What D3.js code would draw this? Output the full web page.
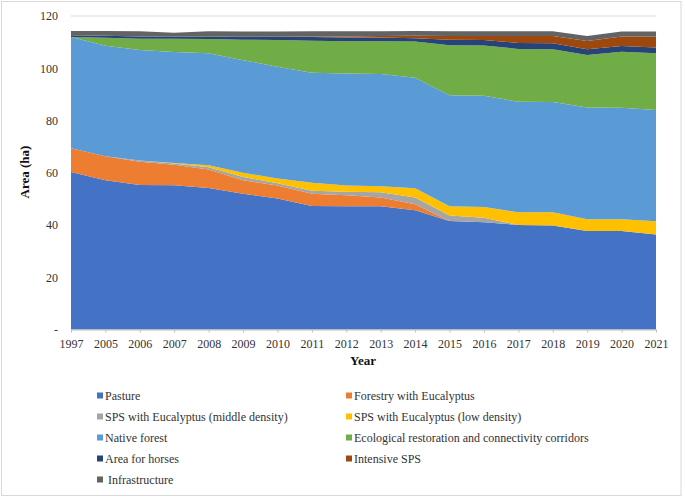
<!DOCTYPE html>
<html>
<head>
<meta charset="utf-8">
<script src="https://cdn.jsdelivr.net/npm/d3@7"></script>
<style>
  body { margin: 0; background: #fff; }
  svg { display: block; font-family: "Liberation Serif", "Times New Roman", serif; }
</style>
</head>
<body>
<div id="chart"></div>
<script>
const width = 685;
const height = 498;

// categories
const years = ['1997', '2005', '2006', '2007', '2008', '2009', '2010', '2011', '2012',
  '2013', '2014', '2015', '2016', '2017', '2018', '2019', '2020', '2021'];

// series values (ha)
const pasture = [60.3, 57.1, 55.3, 55.2, 54.2, 52.0, 50.1, 47.3, 47.2, 47.2, 45.6, 41.5, 41.1, 40.0, 39.8, 37.7, 37.7, 36.4];
const forestry = [9.1, 9.2, 8.9, 7.9, 7.0, 5.1, 5.0, 4.7, 4.2, 3.3, 2.3, 0, 0, 0, 0, 0, 0, 0];
const spsMiddle = [0, 0, 0.5, 0.4, 0.9, 1.3, 0.9, 1.1, 1.3, 2.0, 2.6, 2.1, 1.7, 0, 0, 0, 0, 0];
const spsLow = [0, 0, 0, 0.2, 0.8, 1.6, 1.8, 3.1, 2.4, 2.3, 3.6, 3.6, 4.1, 4.9, 5.1, 4.5, 4.5, 5.0];
const nativeForest = [42.6, 42.3, 42.3, 42.5, 42.8, 43.1, 42.8, 42.1, 42.9, 43.0, 42.3, 42.5, 42.6, 42.3, 42.2, 42.8, 42.7, 42.6];
const restoration = [0, 3.1, 4.3, 5.1, 5.5, 7.8, 10.2, 12.2, 12.3, 12.5, 13.8, 19.1, 19.2, 20.2, 20.2, 20.1, 21.4, 21.7];
const horses = [0.6, 0.7, 0.9, 0.8, 1.0, 1.2, 1.3, 1.5, 1.5, 1.5, 1.3, 2.1, 2.1, 2.3, 2.3, 2.2, 2.2, 2.2];
const intensiveSPS = [0, 0, 0, 0, 0, 0, 0, 0.2, 0.4, 0.5, 0.9, 1.4, 1.5, 2.6, 2.7, 3.1, 3.7, 4.3];
const infrastructure = [1.7, 1.9, 2.0, 1.5, 2.0, 2.0, 2.0, 2.0, 2.0, 1.9, 1.9, 1.9, 1.9, 1.9, 1.9, 1.9, 1.9, 1.9];

const seriesNames = ['Pasture', 'Forestry with Eucalyptus', 'SPS with Eucalyptus (middle density)',
  'SPS with Eucalyptus (low density)', 'Native forest', 'Ecological restoration and connectivity corridors',
  'Area for horses', 'Intensive SPS', ' Infrastructure'];
const seriesValues = [pasture, forestry, spsMiddle, spsLow, nativeForest, restoration, horses, intensiveSPS, infrastructure];
const colors = ['#4472C4', '#ED7D31', '#A5A5A5', '#FFC000', '#5B9BD5', '#70AD47', '#264478', '#9E480E', '#636363'];

const yTicks = [0, 20, 40, 60, 80, 100, 120];

const rows = years.map((yr, i) => {
  const r = { year: yr };
  seriesNames.forEach((name, k) => { r[name] = seriesValues[k][i]; });
  return r;
});

const svg = d3.select('#chart').append('svg').attr('width', width).attr('height', height);

// outer frame
svg.append('rect')
  .attr('x', 1.5).attr('y', 1.5)
  .attr('width', 679.5).attr('height', 494)
  .attr('fill', '#fff')
  .attr('stroke', '#d9d9d9');

const x = d3.scalePoint().domain(years).range([71, 656]);
const y = d3.scaleLinear().domain([0, 120]).range([329.5, 16]);

// gridlines
svg.append('g')
  .selectAll('line')
  .data(yTicks.slice(1))
  .join('line')
  .attr('x1', 71).attr('x2', 656)
  .attr('y1', (d) => y(d)).attr('y2', (d) => y(d))
  .attr('stroke', '#d9d9d9');

const stack = d3.stack().keys(seriesNames);
const layers = stack(rows);

const area = d3.area()
  .x((d) => x(d.data.year))
  .y0((d) => y(d[0]))
  .y1((d) => y(d[1]));

svg.append('g')
  .selectAll('path')
  .data(layers)
  .join('path')
  .attr('d', area)
  .attr('fill', (d, i) => colors[i]);

// x axis
const xAxis = svg.append('g')
  .attr('transform', `translate(0,${y(0)})`)
  .call(d3.axisBottom(x).tickSizeOuter(0).tickSizeInner(3).tickPadding(7));
xAxis.select('.domain').attr('stroke', '#bfbfbf');
xAxis.selectAll('.tick line').attr('stroke', '#bfbfbf');
xAxis.selectAll('text')
  .attr('font-family', '"Liberation Serif", serif')
  .attr('font-size', 12)
  .attr('fill', '#333');

// y axis
const yAxis = svg.append('g')
  .attr('transform', 'translate(71,0)')
  .call(d3.axisLeft(y).tickValues(yTicks).tickSize(0).tickPadding(13)
    .tickFormat((d) => d === 0 ? '-' : d));
yAxis.select('.domain').remove();
yAxis.selectAll('text')
  .attr('font-family', '"Liberation Serif", serif')
  .attr('font-size', 12)
  .attr('fill', '#333');

// axis titles
svg.append('text')
  .attr('x', 363).attr('y', 365)
  .attr('text-anchor', 'middle')
  .attr('font-size', 13)
  .attr('font-weight', 'bold')
  .attr('fill', '#111')
  .text('Year');

svg.append('text')
  .attr('transform', 'translate(29,172) rotate(-90)')
  .attr('text-anchor', 'middle')
  .attr('font-size', 13)
  .attr('font-weight', 'bold')
  .attr('fill', '#111')
  .text('Area (ha)');

// legend, two columns
const legend = svg.append('g')
  .selectAll('g')
  .data(seriesNames)
  .join('g')
  .attr('transform', (d, i) => `translate(${i % 2 === 0 ? 97 : 346},${396 + Math.floor(i / 2) * 21})`);

legend.append('rect')
  .attr('x', 0).attr('y', -3.5)
  .attr('width', 6).attr('height', 6)
  .attr('fill', (d, i) => colors[i]);

legend.append('text')
  .attr('x', 8).attr('y', 0)
  .attr('dy', '0.35em')
  .attr('font-size', 12)
  .attr('fill', '#333')
  .attr('xml:space', 'preserve')
  .style('white-space', 'pre')
  .text((d) => d);
</script>
</body>
</html>
